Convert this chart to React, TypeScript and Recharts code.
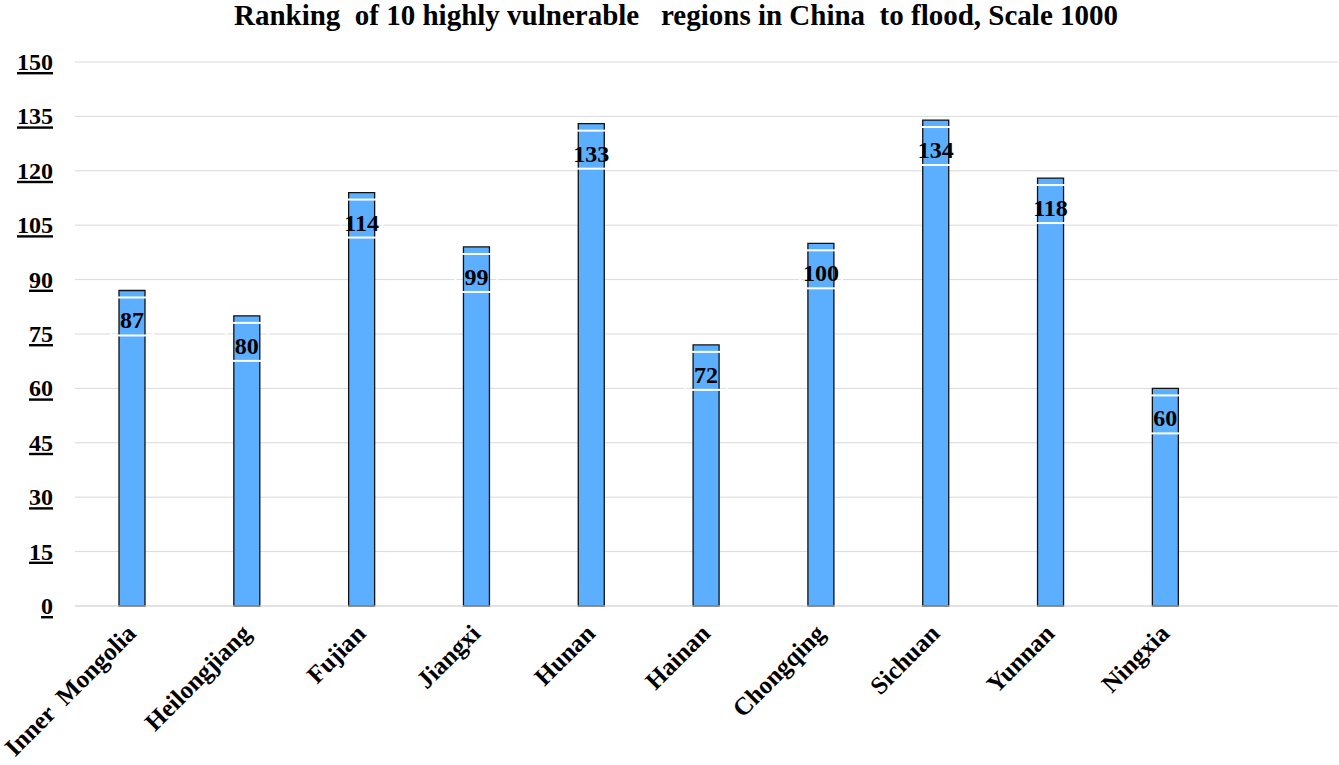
import React from 'react';
import { BarChart, Bar, XAxis, YAxis, CartesianGrid, LabelList } from 'recharts';

const regions = ['Inner  Mongolia', 'Heilongjiang', 'Fujian', 'Jiangxi', 'Hunan', 'Hainan', 'Chongqing', 'Sichuan', 'Yunnan', 'Ningxia', ''];
const scores: (number | null)[] = [87, 80, 114, 99, 133, 72, 100, 134, 118, 60, null];
const yTicks = [0, 15, 30, 45, 60, 75, 90, 105, 120, 135, 150];
const title = 'Ranking  of 10 highly vulnerable   regions in China  to flood, Scale 1000';

const data = regions.map((r, i) => ({ region: r, score: scores[i] }));

const FONT = '"Liberation Serif", "Times New Roman", serif';

const YTick = (props: any) => {
  const { x, y, payload } = props;
  return (
    <text x={x - 14} y={y + 8} textAnchor="end" fontFamily={FONT} fontWeight="bold" fontSize={24} fill="#000" style={{ textDecoration: 'underline' }}>
      {payload.value}
    </text>
  );
};

const XTick = (props: any) => {
  const { x, y, payload } = props;
  if (!payload.value) return null;
  return (
    <g transform={`translate(${x + 5},${y + 21})`}>
      <text x={0} y={0} textAnchor="end" transform="rotate(-45)" fontFamily={FONT} fontWeight="bold" fontSize={25} fill="#000" style={{ whiteSpace: 'pre' }}>
        {payload.value}
      </text>
    </g>
  );
};

const ValueLabel = (props: any) => {
  const { x, y, width, value } = props;
  if (value === null || value === undefined) return null;
  const cx = x + width / 2;
  return (
    <g>
      <rect x={cx - 21} y={y + 7} width={42} height={38} fill="none" stroke="#fff" strokeWidth={2} />
      <text x={cx} y={y + 38} textAnchor="middle" fontFamily={FONT} fontWeight="bold" fontSize={24} fill="#000">
        {value}
      </text>
    </g>
  );
};

export default function App() {
  return (
    <div style={{ position: 'absolute', left: 0, top: 0, width: 1339, height: 765, background: '#fff' }}>
      <div style={{ position: 'absolute', left: 0, top: 0 }}>
        <BarChart width={1339} height={765} data={data} margin={{ top: 62, right: 1, bottom: 0, left: 0 }}>
          <CartesianGrid vertical={false} stroke="#d9d9d9" strokeWidth={1} />
          <XAxis dataKey="region" interval={0} tickLine={false} axisLine={{ stroke: '#d9d9d9' }} tick={<XTick />} height={159} />
          <YAxis domain={[0, 150]} ticks={yTicks} width={75} axisLine={false} tickLine={false} tick={<YTick />} interval={0} />
          <Bar dataKey="score" fill="#5cafff" stroke="#111" strokeWidth={1.3} barSize={26} isAnimationActive={false}>
            <LabelList dataKey="score" content={<ValueLabel />} />
          </Bar>
        </BarChart>
      </div>
      <div style={{ position: 'absolute', top: -1, left: 0, width: 1352, textAlign: 'center', fontFamily: FONT, fontWeight: 'bold', fontSize: 29, lineHeight: '32px', whiteSpace: 'pre', color: '#000' }}>
        {title}
      </div>
    </div>
  );
}
